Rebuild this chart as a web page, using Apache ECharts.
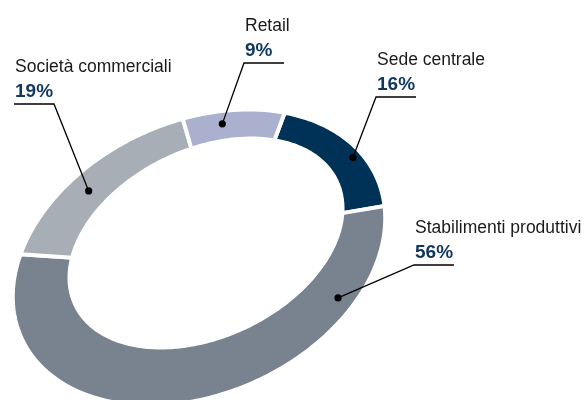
<!DOCTYPE html>
<html><head><meta charset="utf-8">
<script src="https://cdn.jsdelivr.net/npm/echarts@6/dist/echarts.min.js"></script>
<style>html,body{margin:0;padding:0;background:#fff}#c{width:587px;height:400px}</style>
</head><body><div id="c"></div>
<script>
// ---- data ----
const categories = ['Sede centrale', 'Stabilimenti produttivi', 'Società commerciali', 'Retail'];
const values = [16, 56, 19, 9];
const percentLabels = ['16%', '56%', '19%', '9%'];

// ---- styles / layout ----
const sliceColors = ['#003258', '#78838f', '#a8aeb5', '#aab0cd'];
const GAP = 4;
const ring = {
  outer: { cx: 199, cy: 257.5, a: 192.9 + GAP / 2, b: 134.4 + GAP / 2, rot: -24.4 },
  inner: { cx: 206, cy: 243, a: 146.5 - GAP / 2, b: 95.1 - GAP / 2, rot: -25.4 },
  start: -45.0,
  // inner edge angular warp: d0 + amp*cos(t - phase)
  warp: { d0: 0.9, amp: 6.8, phase: 35 }
};
const labelLayout = [
  { frac: 0.57, rad: 0.26, textX: 377, lineY: 97, side: 'left' },
  { frac: 0.194, rad: 0.33, textX: 415, lineY: 265, side: 'left' },
  { frac: 0.444, rad: 0.50, textX: 15, lineY: 104, side: 'right' },
  { frac: 0.37, rad: 0.43, textX: 245, lineY: 63, side: 'left' }
];
const NAME_FS = 17.5, PCT_FS = 19, FONT = '"Liberation Sans", Arial, sans-serif';

function ellPt(e, t) {
  const r = t * Math.PI / 180, p = e.rot * Math.PI / 180;
  const lx = e.a * Math.cos(r), ly = e.b * Math.sin(r);
  return [e.cx + lx * Math.cos(p) - ly * Math.sin(p), e.cy + lx * Math.sin(p) + ly * Math.cos(p)];
}
function innerPt(t) {
  const w = ring.warp;
  return ellPt(ring.inner, t + w.d0 + w.amp * Math.cos((t - w.phase) * Math.PI / 180));
}
function sliceRange(idx) {
  const total = values.reduce((s, v) => s + v, 0);
  let cum = 0;
  for (let i = 0; i < idx; i++) cum += values[i];
  const t1 = ring.start + cum / total * 360;
  const t2 = t1 + values[idx] / total * 360;
  return [t1, t2];
}

const chart = echarts.init(document.getElementById('c'), null, { renderer: 'canvas' });
const seriesData = values.map((v, i) => ({ name: categories[i], value: v }));

chart.setOption({
  animation: false,
  backgroundColor: '#fff',
  series: [
    {
      type: 'custom',
      coordinateSystem: 'none',
      data: seriesData,
      z: 1,
      renderItem: function (params, api) {
        const idx = params.dataIndex;
        const [t1, t2] = sliceRange(idx);
        const n = Math.max(8, Math.ceil(t2 - t1));
        const pts = [];
        for (let k = 0; k <= n; k++) pts.push(ellPt(ring.outer, t1 + (t2 - t1) * k / n));
        for (let k = n; k >= 0; k--) pts.push(innerPt(t1 + (t2 - t1) * k / n));
        return {
          type: 'polygon',
          shape: { points: pts },
          style: { fill: sliceColors[idx], stroke: '#fff', lineWidth: GAP, lineJoin: 'miter' }
        };
      }
    },
    {
      type: 'custom',
      coordinateSystem: 'none',
      data: seriesData,
      z: 2,
      renderItem: function (params, api) {
        const idx = params.dataIndex;
        const L = labelLayout[idx];
        const [t1, t2] = sliceRange(idx);
        const t = t1 + (t2 - t1) * L.frac;
        const o = ellPt(ring.outer, t), inn = innerPt(t);
        const dot = [o[0] + (inn[0] - o[0]) * L.rad, o[1] + (inn[1] - o[1]) * L.rad];
        const lineStart = L.textX - 1, lineEnd = L.textX + 39;
        const elbow = L.side === 'left' ? [lineStart, L.lineY] : [lineEnd, L.lineY];
        const end = L.side === 'left' ? [lineEnd, L.lineY] : [lineStart, L.lineY];
        const nameBase = L.lineY - 31, pctBase = L.lineY - 5.5;
        return {
          type: 'group',
          children: [
            { type: 'polyline', shape: { points: [dot, elbow, end] }, style: { stroke: '#000', lineWidth: 1.3, fill: null } },
            { type: 'circle', shape: { cx: dot[0], cy: dot[1], r: 3.6 }, style: { fill: '#000' } },
            { type: 'text', x: L.textX, y: nameBase - NAME_FS * 0.33,
              style: { text: categories[idx], fill: '#1a1a1a', fontSize: NAME_FS, fontFamily: FONT, align: 'left', verticalAlign: 'middle' } },
            { type: 'text', x: L.textX, y: pctBase - PCT_FS * 0.33,
              style: { text: percentLabels[idx], fill: '#10375f', fontSize: PCT_FS, fontWeight: 'bold', fontFamily: FONT, align: 'left', verticalAlign: 'middle' } }
          ]
        };
      }
    }
  ]
});
</script>
</body></html>
